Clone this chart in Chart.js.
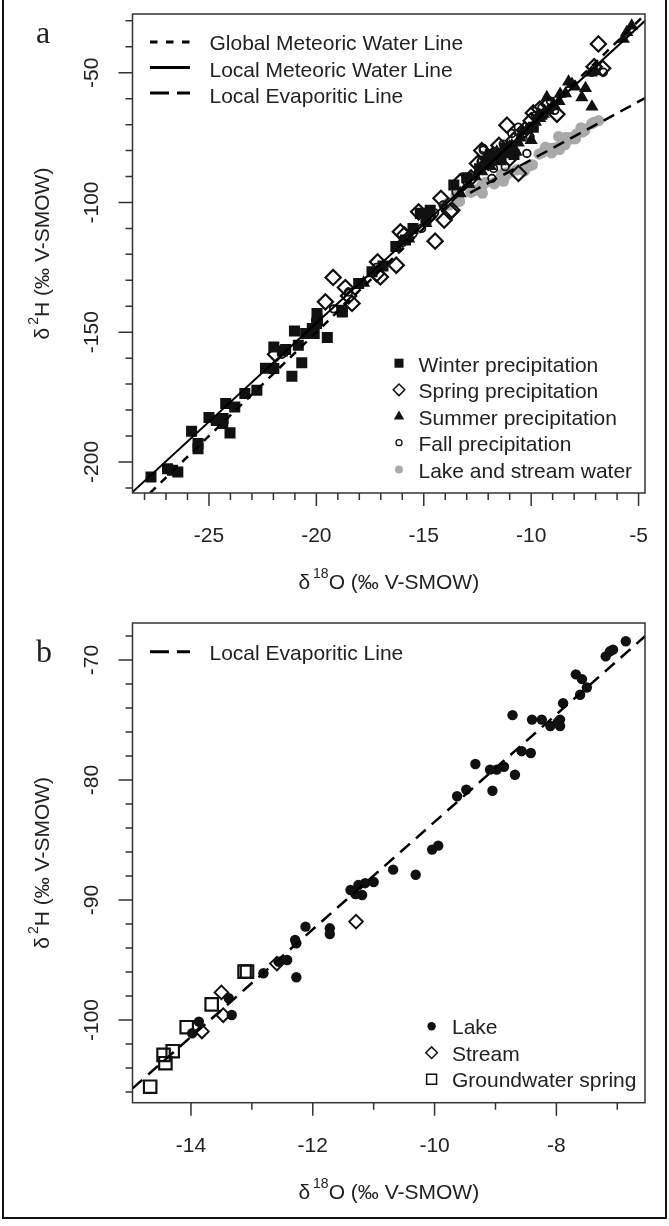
<!DOCTYPE html>
<html>
<head>
<meta charset="utf-8">
<script src="https://cdn.jsdelivr.net/npm/chart.js@4.4.0/dist/chart.umd.min.js"></script>
<style>
  html, body { margin: 0; padding: 0; background: #fff; }
  #frame { position: absolute; left: 2px; top: -5px; width: 665px; height: 1224px;
           box-sizing: border-box; border: 2px solid #111; }
  .panel { position: absolute; left: 0; width: 669px; }
  #wrapA { top: 0; height: 610px; }
  #wrapB { top: 610px; height: 616px; }
</style>
</head>
<body>
<div id="frame"></div>
<div class="panel" id="wrapA"><canvas id="chartA"></canvas></div>
<div class="panel" id="wrapB"><canvas id="chartB"></canvas></div>
<script>
// Stable isotopes: d2H vs d18O, precipitation by season (a) and lake/stream/spring waters (b)

// ---- panel a: precipitation ----
const WINTER_X = [-27.7, -26.93, -26.7, -26.45, -25.81, -25.51, -25.51, -25.0, -24.66, -24.36, -24.22, -24.34, -24.02, -23.8, -23.33, -22.77, -22.37, -21.98, -21.98, -21.58, -21.43, -21.14, -20.68, -21.02, -20.84, -20.5, -20.19, -19.99, -20.1, -19.95, -19.49, -19.97, -18.79, -18.8, -18.03, -17.41, -16.9, -16.3, -15.85, -15.5, -15.16, -14.9, -14.7, -13.6, -13.0, -12.4, -12.0, -11.9, -11.5, -11.4, -11.2, -10.9, -10.8, -9.9, -9.5];
const WINTER_Y = [-205.8, -202.6, -203.2, -203.9, -188.2, -192.9, -194.9, -182.9, -184.0, -185.2, -177.5, -183.3, -188.8, -178.8, -173.6, -172.4, -163.9, -164.0, -155.7, -157.2, -156.7, -167.0, -161.8, -149.5, -155.0, -150.5, -148.6, -146.6, -150.5, -145.4, -152.0, -142.8, -142.2, -141.5, -131.2, -126.7, -124.5, -117.0, -114.5, -110.0, -104.2, -106.5, -103.0, -93.3, -90.5, -87.0, -83.5, -81.5, -81.0, -83.5, -79.0, -80.0, -81.5, -71.0, -66.0];

const SPRING_X = [-21.9, -19.22, -18.65, -19.58, -18.34, -18.5, -17.15, -16.28, -17.02, -17.2, -16.09, -15.9, -14.47, -14.2, -13.77, -14.05, -15.24, -13.69, -13.3, -12.8, -12.5, -12.0, -11.8, -11.13, -11.5, -10.59, -10.8, -10.3, -10.0, -9.9, -9.6, -9.2, -8.8, -6.87, -6.67, -7.07, -11.0, -12.3];
const SPRING_Y = [-158.5, -128.9, -132.8, -138.3, -138.9, -136.0, -122.9, -124.2, -128.7, -127.5, -111.3, -112.5, -114.9, -98.4, -103.6, -106.8, -103.6, -103.0, -92.0, -90.5, -85.0, -84.5, -82.0, -70.2, -78.0, -88.8, -76.0, -72.0, -68.5, -65.5, -64.0, -62.0, -66.0, -38.9, -48.3, -47.7, -83.0, -80.0];

const SUMMER_X = [-5.55, -5.32, -5.71, -8.26, -7.96, -7.47, -7.17, -7.64, -8.1, -8.4, -8.7, -9.27, -8.96, -9.2, -9.43, -8.65, -9.65, -9.6, -9.0, -10.2, -10.4, -10.5, -10.6, -10.9, -11.0, -11.2, -11.3, -11.5, -11.6, -10.7, -11.8, -11.9, -12.1, -12.3, -12.6, -12.9, -13.3, -14.9, -15.7, -17.8, -9.8, -7.2, -7.0, -11.0, -10.0];
const SUMMER_Y = [-34.4, -31.9, -37.0, -53.5, -55.4, -56.0, -63.1, -59.5, -54.4, -58.0, -61.0, -59.5, -62.1, -64.5, -65.9, -58.2, -66.0, -67.5, -63.0, -72.0, -72.5, -75.0, -77.0, -78.0, -78.5, -81.0, -79.5, -83.0, -80.5, -80.5, -83.5, -86.0, -84.5, -88.0, -90.0, -93.0, -96.5, -108.0, -114.0, -131.0, -69.0, -50.0, -49.5, -81.5, -76.0];

const FALL_X = [-12.23, -12.33, -10.05, -10.9, -12.29, -11.75, -11.83, -12.22, -10.2, -11.21, -6.94, -6.64, -7.18, -9.5, -9.1, -8.9, -13.5, -14.5, -14.1, -15.1, -15.5, -17.2, -18.5, -19.2, -21.6, -16.0, -10.6, -11.3, -9.8, -13.0];
const FALL_Y = [-79.8, -84.3, -74.7, -73.4, -83.7, -86.9, -90.7, -79.2, -81.1, -86.2, -47.9, -49.8, -49.8, -63.5, -61.0, -64.5, -96.0, -104.0, -101.0, -110.0, -112.0, -125.0, -134.5, -141.0, -158.5, -115.5, -71.0, -77.5, -66.5, -92.0];

// ---- panel b: surface and ground waters ----
const LAKE_X = [-6.86, -7.07, -7.12, -7.19, -7.68, -7.58, -7.50, -7.61, -7.89, -8.72, -8.40, -8.24, -8.10, -7.94, -7.94, -7.98, -8.57, -8.42, -9.33, -9.09, -8.98, -8.86, -8.68, -9.05, -9.63, -9.48, -10.04, -9.94, -10.68, -10.31, -11.38, -11.25, -11.14, -11.19, -11.0, -11.3, -11.72, -11.72, -12.12, -12.29, -12.27, -12.27, -12.42, -12.56, -12.81, -13.38, -13.33, -13.87, -13.98];
const LAKE_Y = [-68.44, -69.14, -69.28, -69.7, -71.2, -71.6, -72.3, -72.9, -73.6, -74.6, -74.97, -74.97, -75.5, -74.97, -75.5, -75.2, -77.6, -77.75, -78.67, -79.14, -79.14, -78.9, -79.56, -80.9, -81.36, -80.8, -85.8, -85.47, -87.47, -87.9, -89.17, -88.75, -88.6, -89.58, -88.5, -89.5, -92.36, -92.83, -92.22, -93.33, -93.6, -96.44, -95.0, -95.14, -96.1, -98.19, -99.58, -100.14, -101.1];

const STREAM_X = [-11.29, -12.59, -13.50, -13.47, -13.82];
const STREAM_Y = [-91.8, -95.3, -97.7, -99.6, -100.95];

const SPRING_GW_X = [-14.67, -14.45, -14.42, -14.30, -14.07, -13.66, -13.12, -13.08];
const SPRING_GW_Y = [-105.56, -102.9, -103.6, -102.6, -100.6, -98.7, -95.97, -95.97];

// ---- reference lines (end points) ----
const GMWL_X = [-27.75, -4.70];
const GMWL_Y = [-212.0, -27.6];
const LMWL_X = [-28.56, -4.70];
const LMWL_Y = [-211.6, -30.0];
const LEL_A_X = [-12.85, -4.70];
const LEL_A_Y = [-96.3, -59.8];
const LEL_B_X = [-14.96, -6.54];
const LEL_B_Y = [-105.7, -68.0];

// ---- axes ----
const A_X_TICKS = [-25, -20, -15, -10, -5];
const A_X_MINOR = [-28, -27, -26, -24, -23, -22, -21, -19, -18, -17, -16, -14, -13, -12, -11, -9, -8, -7, -6];
const A_Y_TICKS = [-200, -150, -100, -50];
const A_Y_MINOR = [-210, -190, -180, -170, -160, -140, -130, -120, -110, -90, -80, -70, -60, -40, -30];
const B_X_TICKS = [-14, -12, -10, -8];
const B_X_MINOR = [-13, -11, -9, -7];
const B_Y_TICKS = [-100, -90, -80, -70];
const B_Y_MINOR = [-106, -104, -102, -98, -96, -94, -92, -88, -86, -84, -82, -78, -76, -74, -72, -68];

const FONT = '"Liberation Sans", Arial, sans-serif';
const SERIF = '"Liberation Serif", "Times New Roman", serif';
const INK = '#222';

function pts(xs, ys) { return xs.map((x, i) => ({ x: x, y: ys[i] })); }

function drawRuns(ctx, runs, x, y, rot) {
    // rich text (superscripts) centred on x, baseline at y
    ctx.save();
    ctx.translate(x, y);
    ctx.rotate(rot);
    ctx.textAlign = 'left';
    ctx.textBaseline = 'alphabetic';
    let w = 0;
    runs.forEach(r => { ctx.font = r.s + 'px ' + FONT; w += ctx.measureText(r.t).width + (r.pad || 0); });
    let cx = -w / 2;
    runs.forEach(r => {
        ctx.font = r.s + 'px ' + FONT;
        ctx.fillText(r.t, cx, r.dy || 0);
        cx += ctx.measureText(r.t).width + (r.pad || 0);
    });
    ctx.restore();
}

function legendSymbol(ctx, s, x, y) {
    ctx.save();
    ctx.fillStyle = s.fill;
    ctx.strokeStyle = s.stroke;
    ctx.lineWidth = s.bw;
    Chart.helpers.drawPoint(ctx, { pointStyle: s.style, radius: s.r, rotation: 0, borderWidth: s.bw }, x, y);
    ctx.restore();
}

const rAxes = {
    id: 'rAxes',
    afterDatasetsDraw(chart, args, o) {
        const ctx = chart.ctx, a = chart.chartArea;
        const xs = chart.scales.x, ys = chart.scales.y;
        ctx.save();
        ctx.strokeStyle = '#333';
        ctx.lineWidth = 1.5;
        ctx.strokeRect(a.left, a.top, a.right - a.left, a.bottom - a.top);
        ctx.beginPath();
        o.xMajor.forEach(v => { const p = xs.getPixelForValue(v); ctx.moveTo(p, a.bottom); ctx.lineTo(p, a.bottom + 13); });
        o.xMinor.forEach(v => { const p = xs.getPixelForValue(v); ctx.moveTo(p, a.bottom); ctx.lineTo(p, a.bottom + 7); });
        o.yMajor.forEach(v => { const p = ys.getPixelForValue(v); ctx.moveTo(a.left, p); ctx.lineTo(a.left - 14, p); });
        o.yMinor.forEach(v => { const p = ys.getPixelForValue(v); ctx.moveTo(a.left, p); ctx.lineTo(a.left - 7, p); });
        ctx.stroke();

        ctx.fillStyle = INK;
        ctx.font = '21px ' + FONT;
        ctx.textAlign = 'center';
        ctx.textBaseline = 'alphabetic';
        o.xMajor.forEach(v => ctx.fillText(String(v), xs.getPixelForValue(v), a.bottom + 49));
        o.yMajor.forEach(v => {
            ctx.save();
            ctx.translate(a.left - 34.5, ys.getPixelForValue(v));
            ctx.rotate(-Math.PI / 2);
            ctx.fillText(String(v), 0, 0);
            ctx.restore();
        });

        drawRuns(ctx, [{ t: 'δ', s: 21, pad: 3 }, { t: o.xSup, s: 14, dy: -11 }, { t: 'O (‰ V-SMOW)', s: 21 }],
            (a.left + a.right) / 2, a.bottom + 96, 0);
        drawRuns(ctx, [{ t: 'δ', s: 21, pad: 3 }, { t: '2', s: 14, dy: -11 }, { t: 'H (‰ V-SMOW)', s: 21 }],
            a.left - 84, (a.top + a.bottom) / 2, -Math.PI / 2);

        ctx.font = '32px ' + SERIF;
        ctx.textAlign = 'left';
        ctx.fillText(o.letter, 36, o.letterY);

        // line legend (top left)
        o.lineKeys.forEach(k => {
            ctx.save();
            ctx.strokeStyle = '#000';
            ctx.lineWidth = k.w;
            ctx.setLineDash(k.dash);
            ctx.beginPath();
            ctx.moveTo(150, k.ly);
            ctx.lineTo(190, k.ly);
            ctx.stroke();
            ctx.restore();
            ctx.font = '21px ' + FONT;
            ctx.fillStyle = INK;
            ctx.textAlign = 'left';
            ctx.fillText(k.text, 209.5, k.ty);
        });

        // symbol legend (bottom right)
        o.symKeys.forEach(k => {
            legendSymbol(ctx, k, o.symX, k.ty - o.symDy);
            ctx.font = '21px ' + FONT;
            ctx.fillStyle = INK;
            ctx.textAlign = 'left';
            ctx.fillText(k.text, o.textX, k.ty);
        });
        ctx.restore();
    }
};

function lineSet(xs, ys, w, dash) {
    return { data: pts(xs, ys), showLine: true, pointRadius: 0, borderColor: '#000', borderWidth: w,
             borderDash: dash, fill: false, order: 0, clip: 0 };
}

function baseOptions(xMin, xMax, yMin, yMax, pad, axes) {
    return {
        responsive: true,
        maintainAspectRatio: false,
        animation: false,
        events: [],
        layout: { padding: pad },
        scales: {
            x: { type: 'linear', min: xMin, max: xMax, display: false },
            y: { type: 'linear', min: yMin, max: yMax, display: false }
        },
        plugins: { legend: { display: false }, tooltip: { enabled: false }, rAxes: axes }
    };
}

const OPEN = 'rgba(0,0,0,0)';

new Chart(document.getElementById('chartA'), {
    type: 'scatter',
    data: {
        datasets: [
            lineSet(GMWL_X, GMWL_Y, 2.5, [8, 7]),
            lineSet(LMWL_X, LMWL_Y, 2, []),
            lineSet(LEL_A_X, LEL_A_Y, 2.5, [12, 7]),
            { label: 'Lake and stream water', data: pts(LAKE_X.concat(STREAM_X), LAKE_Y.concat(STREAM_Y)),
              pointStyle: 'circle', pointRadius: 5.6, backgroundColor: '#a9a9a9', borderWidth: 0, order: 5 },
            { label: 'Winter precipitation', data: pts(WINTER_X, WINTER_Y),
              pointStyle: 'rect', pointRadius: 7.8, backgroundColor: '#111', borderWidth: 0, order: 4 },
            { label: 'Spring precipitation', data: pts(SPRING_X, SPRING_Y),
              pointStyle: 'rectRot', pointRadius: 7.6, backgroundColor: OPEN, borderColor: '#111', borderWidth: 2.2, order: 3 },
            { label: 'Summer precipitation', data: pts(SUMMER_X, SUMMER_Y),
              pointStyle: 'triangle', pointRadius: 7.6, backgroundColor: '#111', borderWidth: 0, order: 2 },
            { label: 'Fall precipitation', data: pts(FALL_X, FALL_Y),
              pointStyle: 'circle', pointRadius: 3.8, backgroundColor: OPEN, borderColor: '#111', borderWidth: 1.8, order: 1 }
        ]
    },
    options: baseOptions(-28.56, -4.70, -211.97, -27.36, { left: 132.5, top: 14, right: 24, bottom: 117 }, {
        xMajor: A_X_TICKS, xMinor: A_X_MINOR, yMajor: A_Y_TICKS, yMinor: A_Y_MINOR,
        xSup: '18', letter: 'a', letterY: 43,
        lineKeys: [
            { text: 'Global Meteoric Water Line', ly: 42, ty: 50, w: 3, dash: [7.5, 8.5] },
            { text: 'Local Meteoric Water Line', ly: 67.5, ty: 77, w: 3, dash: [] },
            { text: 'Local Evaporitic Line', ly: 93, ty: 103, w: 3, dash: [19, 8] }
        ],
        symX: 399, textX: 418.5, symDy: 8.5,
        symKeys: [
            { text: 'Winter precipitation', ty: 371.7, style: 'rect', r: 6.4, fill: '#111', stroke: '#111', bw: 0 },
            { text: 'Spring precipitation', ty: 398.3, style: 'rectRot', r: 5.8, fill: OPEN, stroke: '#111', bw: 1.5 },
            { text: 'Summer precipitation', ty: 425, style: 'triangle', r: 6, fill: '#111', stroke: '#111', bw: 0 },
            { text: 'Fall precipitation', ty: 451.2, style: 'circle', r: 3, fill: OPEN, stroke: '#111', bw: 1.3 },
            { text: 'Lake and stream water', ty: 478, style: 'circle', r: 4, fill: '#a9a9a9', stroke: '#a9a9a9', bw: 0 }
        ]
    }),
    plugins: [rAxes]
});

new Chart(document.getElementById('chartB'), {
    type: 'scatter',
    data: {
        datasets: [
            lineSet(LEL_B_X, LEL_B_Y, 2.5, [13, 8]),
            { label: 'Lake', data: pts(LAKE_X, LAKE_Y),
              pointStyle: 'circle', pointRadius: 5.2, backgroundColor: '#111', borderWidth: 0, order: 3 },
            { label: 'Stream', data: pts(STREAM_X, STREAM_Y),
              pointStyle: 'rectRot', pointRadius: 6.8, backgroundColor: OPEN, borderColor: '#111', borderWidth: 2, order: 2 },
            { label: 'Groundwater spring', data: pts(SPRING_GW_X, SPRING_GW_Y),
              pointStyle: 'rect', pointRadius: 8.8, backgroundColor: OPEN, borderColor: '#111', borderWidth: 2.2, order: 1 }
        ]
    },
    options: baseOptions(-14.96, -6.545, -106.89, -66.92, { left: 132.5, top: 13, right: 24, bottom: 123.3 }, {
        xMajor: B_X_TICKS, xMinor: B_X_MINOR, yMajor: B_Y_TICKS, yMinor: B_Y_MINOR,
        xSup: '18', letter: 'b', letterY: 52,
        lineKeys: [
            { text: 'Local Evaporitic Line', ly: 41.7, ty: 50, w: 3, dash: [19, 8] }
        ],
        symX: 431.6, textX: 452, symDy: 8,
        symKeys: [
            { text: 'Lake', ty: 424.3, style: 'circle', r: 4.2, fill: '#111', stroke: '#111', bw: 0 },
            { text: 'Stream', ty: 450.7, style: 'rectRot', r: 5.8, fill: OPEN, stroke: '#111', bw: 1.5 },
            { text: 'Groundwater spring', ty: 477.3, style: 'rect', r: 7, fill: OPEN, stroke: '#111', bw: 1.5 }
        ]
    }),
    plugins: [rAxes]
});
</script>
</body>
</html>
